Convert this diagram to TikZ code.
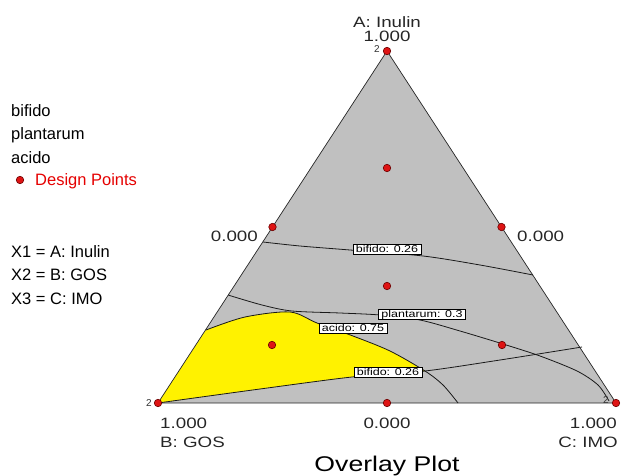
\documentclass[tikz,border=0pt]{standalone}
\usepackage{fontspec}
\setmainfont{Liberation Sans}
\newfontfamily\widefont{Liberation Sans}[FakeStretch=1.25]
\usetikzlibrary{positioning}
\definecolor{plotgrey}{RGB}{192,192,192}
\definecolor{dotred}{RGB}{222,20,20}
\definecolor{dotrim}{RGB}{110,0,0}
\tikzset{
  design/.style = {circle, fill=dotred, draw=dotrim, line width=0.6pt, inner sep=0, minimum size=7.5pt},
  contour/.style = {draw=black!90, line width=0.8pt},
  clabel/.style = {draw=black, fill=white, line width=0.6pt, inner xsep=3pt, inner ysep=1pt, text height=7pt, text depth=1pt, font=\widefont\fontsize{10}{10}\selectfont},
  axlabel/.style = {inner sep=0, text=black!85, font=\widefont\fontsize{15}{15}\selectfont},
  legend/.style = {anchor=west, inner sep=0, font=\fontsize{16.5}{17}\selectfont},
  vtx/.style = {inner sep=0, text=black!80, font=\fontsize{10}{10}\selectfont}
}

\begin{document}
\begin{tikzpicture}[x=1pt, y=-1pt]
\useasboundingbox (0,0) rectangle (621,476);
\coordinate (A) at (387, 51);
\coordinate (B) at (158, 403);
\coordinate (C) at (616, 403);

% region
\fill [plotgrey] (A) -- (B) -- (C) -- cycle;
\fill [yellow] (B) -- (206,330)
  plot [smooth] coordinates {(206,330) (245,317) (290,312) (317,323) (353,336) (390,351) (425,371)}
  -- plot [smooth] coordinates {(425,371) (352,377) (260,389) (B)} -- cycle;

% contours
\draw [contour] plot [smooth] coordinates {(263,242) (300,246) (350,250) (423,256) (480,265) (533,275)};
\draw [contour] plot [smooth] coordinates {(228,295) (262,305) (292,311) (340,313) (380,315) (420,320) (460,331) (503,344) (540,356) (577,371) (598,385) (609,401)};
\draw [contour] plot [smooth] coordinates {(206,330) (245,317) (290,312) (317,323) (353,336) (390,351) (425,371) (443,385) (458,403)};
\draw [contour] plot [smooth] coordinates {(B) (260,389) (352,377) (425,371) (500,360) (582,347)};
\draw [black!85, line width=0.7pt] (A) -- (B) -- (C) -- cycle;

\node [clabel] (bif1) at (387, 249) {bifido: 0.26};
\node [clabel] (plan) at (422, 314) {plantarum: 0.3};
\node [clabel] (acid) at (353, 328) {acido: 0.75};
\node [clabel] (bif2) at (388, 372) {bifido: 0.26};

% design points
\node [design] (pA) at (A) {};
\node [design] (pB) at (B) {};
\node [design] (pC) at (C) {};
\node [design] (pAB) at (272.5, 227) {};
\node [design] (pAC) at (501.5, 227) {};
\node [design] (pBC) at (387, 403) {};
\node [design] (pM) at (387, 286) {};
\node [design] (pAA) at (387, 168) {};
\node [design] (pBB) at (272, 345) {};
\node [design] (pCC) at (502, 345) {};
\node [vtx] (nA) at (377, 49) {2};
\node [vtx] (nB) at (149, 403) {2};
\node [vtx] (nC) at (606, 400) {2};

% axes
\node [axlabel] (aname) at (387, 22) {A: Inulin};
\node [axlabel] (atop) at (387, 36) {1.000};
\node [axlabel, anchor=east] (aleft) at (258, 236) {0.000};
\node [axlabel, anchor=west] (aright) at (517, 236) {0.000};
\node [axlabel, anchor=west] (bval) at (160, 423) {1.000};
\node [axlabel, anchor=west] (bname) at (160, 442) {B: GOS};
\node [axlabel] (bcval) at (387, 423) {0.000};
\node [axlabel, anchor=east] (cval) at (617, 423) {1.000};
\node [axlabel, anchor=east] (cname) at (618, 442) {C: IMO};
\node [inner sep=0, font=\widefont\fontsize{21.3}{22}\selectfont] (title) at (387, 466) {Overlay Plot};

% legend
\node [legend] (lbif) at (11, 111) {bifido};
\node [legend] (lplan) at (11, 135) {plantarum};
\node [legend] (lacid) at (11, 158) {acido};
\node [design] (ldot) at (20, 180) {};
\node [legend, text=red!90!black] (ldes) at (35, 181) {Design Points};
\node [legend] (lx1) at (11, 252) {X1 = A: Inulin};
\node [legend] (lx2) at (11, 275) {X2 = B: GOS};
\node [legend] (lx3) at (11, 299) {X3 = C: IMO};
\end{tikzpicture}
\end{document}
